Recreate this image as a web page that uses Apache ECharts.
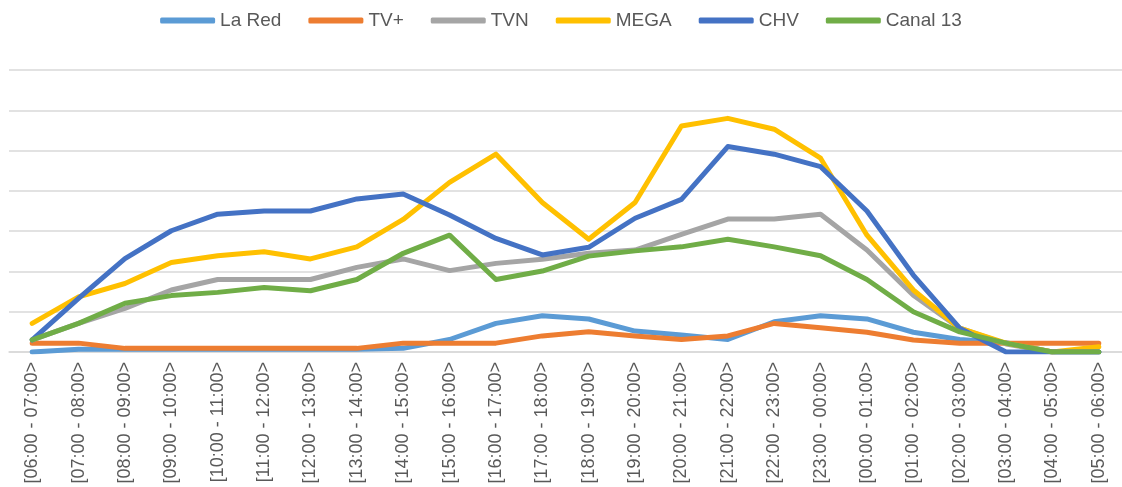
<!DOCTYPE html>
<html>
<head>
<meta charset="utf-8">
<script src="https://cdn.jsdelivr.net/npm/echarts@6/dist/echarts.min.js"></script>
<style>
html, body { margin: 0; padding: 0; background: #fff; }
#chart { width: 1122px; height: 487px; }
</style>
</head>
<body>
<div id="chart"></div>
<script>
var categories = ['[06:00 - 07:00>', '[07:00 - 08:00>', '[08:00 - 09:00>', '[09:00 - 10:00>',
	'[10:00 - 11:00>', '[11:00 - 12:00>', '[12:00 - 13:00>', '[13:00 - 14:00>',
	'[14:00 - 15:00>', '[15:00 - 16:00>', '[16:00 - 17:00>', '[17:00 - 18:00>',
	'[18:00 - 19:00>', '[19:00 - 20:00>', '[20:00 - 21:00>', '[21:00 - 22:00>',
	'[22:00 - 23:00>', '[23:00 - 00:00>', '[00:00 - 01:00>', '[01:00 - 02:00>',
	'[02:00 - 03:00>', '[03:00 - 04:00>', '[04:00 - 05:00>', '[05:00 - 06:00>'];

var laRed   = [0.0, 0.7, 0.7, 0.7, 0.7, 0.7, 0.7, 0.7, 0.9, 3.1, 7.1, 9.0, 8.2, 5.2, 4.2, 3.1, 7.5, 9.0, 8.2, 4.9, 3.1, 2.3, 0.0, 0.0];
var tvPlus  = [2.2, 2.2, 0.9, 0.9, 0.9, 0.9, 0.9, 0.9, 2.2, 2.2, 2.2, 4.0, 5.0, 4.0, 3.1, 4.0, 7.1, 6.0, 4.9, 3.0, 2.2, 2.2, 2.2, 2.2];
var tvn     = [3.0, 7.1, 10.8, 15.4, 18.0, 18.0, 18.0, 21.0, 23.1, 20.2, 22.0, 23.0, 24.5, 25.3, 29.2, 33.0, 33.0, 34.2, 25.3, 14.1, 5.9, 2.0, 0.0, 0.0];
var mega    = [7.1, 13.7, 17.0, 22.2, 23.9, 24.9, 23.1, 26.1, 32.9, 42.1, 49.1, 37.1, 28.0, 37.1, 56.1, 58.0, 55.3, 48.1, 29.0, 15.4, 5.9, 2.2, 0.0, 1.3];
var chv     = [3.0, 13.3, 23.2, 30.1, 34.2, 35.0, 35.0, 38.0, 39.2, 34.0, 28.2, 24.1, 26.0, 33.2, 37.9, 51.0, 49.1, 46.0, 35.0, 19.1, 5.9, 0.0, 0.0, 0.0];
var canal13 = [3.0, 7.1, 12.1, 14.0, 14.8, 16.0, 15.2, 18.0, 24.5, 29.0, 18.0, 20.1, 23.8, 25.1, 26.1, 28.0, 26.1, 23.9, 18.0, 10.0, 5.0, 2.2, 0.0, 0.0];

var names  = ['La Red', 'TV+', 'TVN', 'MEGA', 'CHV', 'Canal 13'];
var colors = ['#5B9BD5', '#ED7D31', '#A5A5A5', '#FFC000', '#4472C4', '#70AD47'];
var values = [laRed, tvPlus, tvn, mega, chv, canal13];

var chart = echarts.init(document.getElementById('chart'));
var series = names.map(function (n, i) {
	return {
		name: n,
		type: 'line',
		data: values[i],
		symbol: 'none',
		color: colors[i],
		lineStyle: {
			width: 5,
			color: colors[i],
			cap: 'round',
			join: 'round'
		}
	};
});

chart.setOption({
	animation: false,
	legend: {
		top: 6,
		left: 'center',
		itemWidth: 55,
		itemHeight: 6,
		itemGap: 27,
		icon: 'roundRect',
		textStyle: {
			fontFamily: 'Liberation Sans',
			fontSize: 19,
			color: '#595959'
		},
		data: names
	},
	grid: {
		left: 9,
		top: 70,
		width: 1121,
		height: 282,
		containLabel: false
	},
	xAxis: {
		type: 'category',
		data: categories,
		boundaryGap: true,
		axisLine: { lineStyle: { color: '#D9D9D9', width: 1.5 } },
		axisTick: { show: false },
		axisLabel: {
			rotate: 90,
			interval: 0,
			margin: 10,
			fontFamily: 'Liberation Sans',
			fontSize: 18,
			color: '#595959'
		}
	},
	yAxis: {
		type: 'value',
		min: 0,
		max: 70,
		interval: 10,
		axisLabel: { show: false },
		axisLine: { show: false },
		axisTick: { show: false },
		splitLine: { lineStyle: { color: '#D9D9D9', width: 1.5 } }
	},
	series: series
});
</script>
</body>
</html>
